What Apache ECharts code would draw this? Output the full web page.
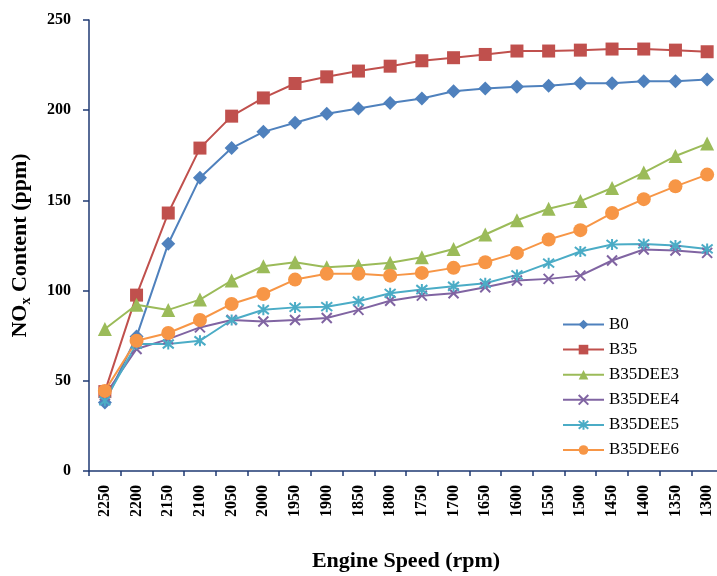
<!DOCTYPE html>
<html>
<head>
<meta charset="utf-8">
<script src="https://cdn.jsdelivr.net/npm/echarts@6/dist/echarts.min.js"></script>
<style>
  html, body { margin: 0; padding: 0; background: #fff; }
  #chart { width: 717px; height: 576px; }
</style>
</head>
<body>
<div id="chart"></div>
<script>
// engine speed categories (rpm)
const speeds = ['2250', '2200', '2150', '2100', '2050', '2000', '1950', '1900', '1850', '1800',
  '1750', '1700', '1650', '1600', '1550', '1500', '1450', '1400', '1350', '1300'];

// NOx content (ppm) per fuel
const b0 = [38, 74.5, 126, 162.5, 179, 188, 193, 198, 201, 204, 206.5, 210.5, 212, 213, 213.5, 215, 215, 216, 216, 217];
const b35 = [44, 97.5, 143, 179, 196.7, 206.8, 214.8, 218.5, 221.7, 224.4, 227.4, 229.1, 230.9, 232.8, 232.8, 233.3, 233.9, 233.9, 233.3, 232.4];
const dee3 = [78.7, 92.2, 89.3, 95, 105.6, 113.5, 115.7, 113, 113.9, 115.4, 118.5, 123.1, 131.1, 139, 145.4, 149.6, 156.9, 165.4, 174.6, 181.5];
const dee4 = [42, 67.6, 73.1, 79.6, 83.7, 82.9, 83.7, 84.8, 89.3, 94.4, 97.2, 98.5, 101.9, 105.6, 106.5, 108.3, 116.7, 122.8, 122.2, 120.9];
const dee5 = [38.9, 70.4, 70.4, 72.2, 83.7, 89.4, 90.7, 91.1, 94.1, 98.5, 100.6, 102.4, 104.1, 108.7, 115.2, 121.7, 125.6, 125.9, 125, 123.1];
const dee6 = [44.4, 72.2, 76.5, 83.7, 92.6, 98.1, 106.1, 109.3, 109.3, 108.3, 109.8, 112.6, 115.7, 120.9, 128.3, 133.5, 143, 150.7, 157.8, 164.3];

const yTicks = [0, 50, 100, 150, 200, 250];

const serif = '"Liberation Serif", "DejaVu Serif", serif';
const axisColor = '#1f3a73';

const crossPath = 'path://M0,0L10,10M10,0L0,10';
const starPath = 'path://M1,1L9,9M9,1L1,9M5,0L5,10';

function mkSeries(name, data, color, symbol, size, stroke) {
  return {
    name: name,
    type: 'line',
    data: data,
    symbol: symbol,
    symbolSize: size,
    lineStyle: { color: color, width: 2 },
    itemStyle: stroke
      ? { color: 'none', borderColor: color, borderWidth: 2 }
      : { color: color },
    emphasis: { disabled: true },
  };
}

const chart = echarts.init(document.getElementById('chart'));
chart.setOption({
  animation: false,
  grid: { left: 89, top: 20, width: 634, height: 451, outerBoundsMode: 'none' },
  legend: {
    orient: 'vertical',
    left: 557,
    top: 311,
    itemWidth: 41,
    itemHeight: 12,
    itemGap: 8.1,
    textStyle: { fontFamily: serif, fontSize: 17, color: '#000' },
    data: ['B0', 'B35', 'B35DEE3', 'B35DEE4', 'B35DEE5', 'B35DEE6'],
  },
  xAxis: {
    type: 'category',
    data: speeds,
    boundaryGap: true,
    name: 'Engine Speed (rpm)',
    nameLocation: 'middle',
    nameGap: 79,
    nameTextStyle: { fontFamily: serif, fontSize: 22, fontWeight: 'bold', color: '#000' },
    axisLine: { lineStyle: { color: axisColor, width: 1.5 } },
    axisTick: { show: true, length: 5, lineStyle: { color: axisColor, width: 1.5 } },
    axisLabel: {
      rotate: 90,
      margin: 14,
      fontFamily: serif,
      fontSize: 16,
      fontWeight: 'bold',
      color: '#000',
    },
    splitLine: { show: false },
  },
  yAxis: {
    type: 'value',
    min: yTicks[0],
    max: yTicks[yTicks.length - 1],
    interval: 50,
    name: '{a|NO}{s|x}{a| Content (ppm)}',
    nameLocation: 'middle',
    nameGap: 56,
    nameTextStyle: {
      rich: {
        a: { fontFamily: serif, fontSize: 22, fontWeight: 'bold', color: '#000' },
        s: { fontFamily: serif, fontSize: 14, fontWeight: 'bold', color: '#000', padding: [11, 0, 0, 0] },
      },
    },
    axisLine: { show: true, lineStyle: { color: axisColor, width: 1.5 } },
    axisTick: { show: true, length: 6, lineStyle: { color: axisColor, width: 1.5 } },
    axisLabel: {
      margin: 18,
      fontFamily: serif,
      fontSize: 16,
      fontWeight: 'bold',
      color: '#000',
    },
    splitLine: { show: false },
  },
  series: [
    mkSeries('B0', b0, '#4f81bd', 'diamond', 14),
    mkSeries('B35', b35, '#c0504d', 'rect', 13),
    mkSeries('B35DEE3', dee3, '#9bbb59', 'triangle', 14),
    mkSeries('B35DEE4', dee4, '#8064a2', crossPath, 10, true),
    mkSeries('B35DEE5', dee5, '#4bacc6', starPath, 11, true),
    mkSeries('B35DEE6', dee6, '#f79646', 'circle', 14),
  ],
});
</script>
</body>
</html>
